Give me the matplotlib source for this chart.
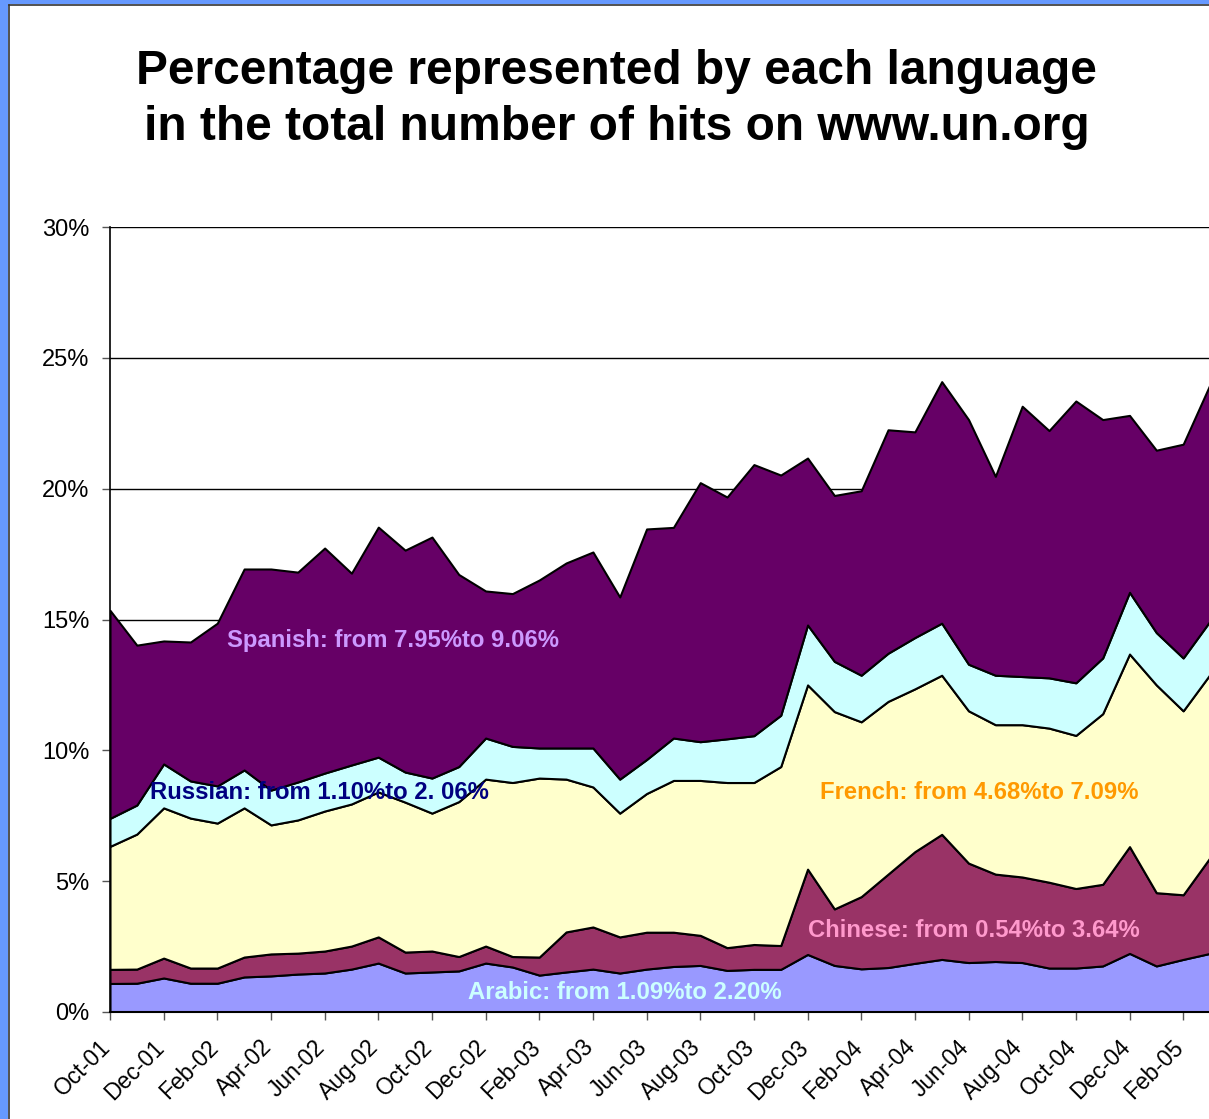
import numpy as np
import pandas as pd
import matplotlib
matplotlib.use("Agg")
from matplotlib import pyplot as plt
from matplotlib.patches import Rectangle
from matplotlib.lines import Line2D
from matplotlib.transforms import ScaledTranslation

# share of hits per language, % (Oct-01 .. Mar-05, monthly)
arabic = [1.09, 1.10, 1.30, 1.10, 1.10, 1.34, 1.38, 1.45, 1.49, 1.64,
          1.87, 1.49, 1.53, 1.57, 1.87, 1.72, 1.41, 1.53, 1.64, 1.49,
          1.64, 1.74, 1.78, 1.59, 1.63, 1.63, 2.20, 1.78, 1.65, 1.70,
          1.86, 2.01, 1.89, 1.93, 1.89, 1.68, 1.68, 1.76, 2.24, 1.76,
          2.01, 2.24]
chinese = [0.54, 0.54, 0.76, 0.58, 0.58, 0.76, 0.84, 0.80, 0.84, 0.88,
           1.00, 0.80, 0.80, 0.55, 0.65, 0.40, 0.69, 1.53, 1.61, 1.38,
           1.41, 1.31, 1.15, 0.87, 0.95, 0.91, 3.26, 2.16, 2.76, 3.57,
           4.27, 4.78, 3.80, 3.34, 3.27, 3.28, 3.04, 3.12, 4.08, 2.80,
           2.47, 3.66]
french = [4.70, 5.16, 5.74, 5.73, 5.54, 5.70, 4.93, 5.09, 5.35, 5.43,
          5.54, 5.73, 5.27, 5.92, 6.38, 6.65, 6.84, 5.84, 5.35, 4.73,
          5.30, 5.80, 5.92, 6.31, 6.19, 6.84, 7.04, 7.54, 6.68, 6.60,
          6.22, 6.08, 5.82, 5.71, 5.82, 5.89, 5.85, 6.52, 7.36, 7.94,
          7.03, 7.00]
russian = [1.07, 1.11, 1.68, 1.42, 1.42, 1.45, 1.33, 1.45, 1.45, 1.49,
           1.33, 1.15, 1.34, 1.34, 1.57, 1.38, 1.15, 1.19, 1.49, 1.30,
           1.30, 1.62, 1.48, 1.67, 1.79, 1.96, 2.29, 1.92, 1.78, 1.84,
           1.96, 1.99, 1.78, 1.89, 1.84, 1.92, 2.01, 2.13, 2.36, 2.00,
           2.02, 2.04]
spanish = [7.95, 6.11, 4.70, 5.31, 6.22, 7.68, 8.45, 8.02, 8.60, 7.33,
           8.79, 8.48, 9.21, 7.34, 5.62, 5.84, 6.42, 7.07, 7.49, 6.96,
           8.81, 8.05, 9.90, 9.24, 10.36, 9.18, 6.38, 6.34, 7.05, 8.54,
           7.86, 9.23, 9.35, 7.60, 10.33, 9.45, 10.77, 9.11, 6.76, 6.97,
           8.17, 9.04]

months = pd.date_range("2001-10-01", periods=len(arabic), freq="MS")
month_labels = [m.strftime("%b-%y") for m in months]

labels = ["Arabic: from 1.09%to 2.20%",
          "Chinese: from 0.54%to 3.64%",
          "French: from 4.68%to 7.09%",
          "Russian: from 1.10%to 2. 06%",
          "Spanish: from 7.95%to 9.06%"]


def main():
    plt.rcParams["font.family"] = ["Liberation Sans", "DejaVu Sans"]

    fig = plt.figure(figsize=(12.09, 11.19), dpi=100)
    fig.patch.set_facecolor("white")

    # slide frame on the left and top
    fig.patches.append(Rectangle((0, 0), 8 / 1209, 1, transform=fig.transFigure,
                                 facecolor="#6699FF", edgecolor="none", zorder=0))
    fig.patches.append(Rectangle((0, 1 - 4 / 1119), 1, 4 / 1119, transform=fig.transFigure,
                                 facecolor="#6699FF", edgecolor="none", zorder=0))
    fig.lines.append(Line2D([8.5 / 1209, 8.5 / 1209], [0, 1 - 4.5 / 1119],
                            transform=fig.transFigure, color="#333333", lw=1.2))
    fig.lines.append(Line2D([8.5 / 1209, 1], [1 - 4.5 / 1119, 1 - 4.5 / 1119],
                            transform=fig.transFigure, color="#333333", lw=1.2))

    ax = fig.add_axes([110 / 1209, 107 / 1119, 1100 / 1209, 785 / 1119])
    x = np.arange(len(arabic))
    colors = ["#9999FF", "#993366", "#FFFFCC", "#CCFFFF", "#660066"]
    ax.stackplot(x, arabic, chinese, french, russian, spanish,
                 colors=colors, edgecolor="black", linewidth=1.5, zorder=2)

    ax.set_xlim(0, len(arabic) - 1)
    ax.set_ylim(0, 30)
    ax.set_yticks(np.arange(0, 31, 5))
    ax.set_yticklabels(["%d%%" % v for v in range(0, 31, 5)], fontsize=17)
    ax.yaxis.grid(True, color="black", lw=1)
    ax.set_axisbelow(True)
    ax.set_xticks(x[::2])
    ax.set_xticklabels(month_labels[::2], rotation=45, ha="right",
                       rotation_mode="anchor", fontsize=16.5)
    ax.tick_params(axis="both", direction="out", length=6, width=1, color="#555555")
    ax.tick_params(axis="y", pad=9)
    ax.tick_params(axis="x", pad=11)
    shift = ScaledTranslation(-11 / 100, 0, fig.dpi_scale_trans)
    for lbl in ax.get_xticklabels():
        lbl.set_transform(lbl.get_transform() + shift)
    for side in ["top", "right"]:
        ax.spines[side].set_visible(False)
    ax.spines["left"].set_linewidth(1.2)
    ax.spines["bottom"].set_linewidth(1.5)
    ax.spines["bottom"].set_zorder(5)

    text_colors = ["#CCFFFF", "#FF99CC", "#FF9900", "#000080", "#CC99FF"]
    text_pos = [(13.34, 0.73), (26.0, 3.13), (26.46, 8.37), (1.49, 8.37), (4.36, 14.18)]
    for lab, col, (tx, ty) in zip(labels, text_colors, text_pos):
        ax.text(tx, ty, lab, color=col, fontsize=17.2, fontweight="bold",
                ha="left", va="center", zorder=6)

    fig.text(0.51, 0.911, "Percentage represented by each language\n"
             "in the total number of hits on www.un.org",
             ha="center", va="center", fontsize=34.5, fontweight="bold",
             linespacing=1.3)

    plt.savefig("out.png", dpi=100)


if __name__ == "__main__":
    main()
